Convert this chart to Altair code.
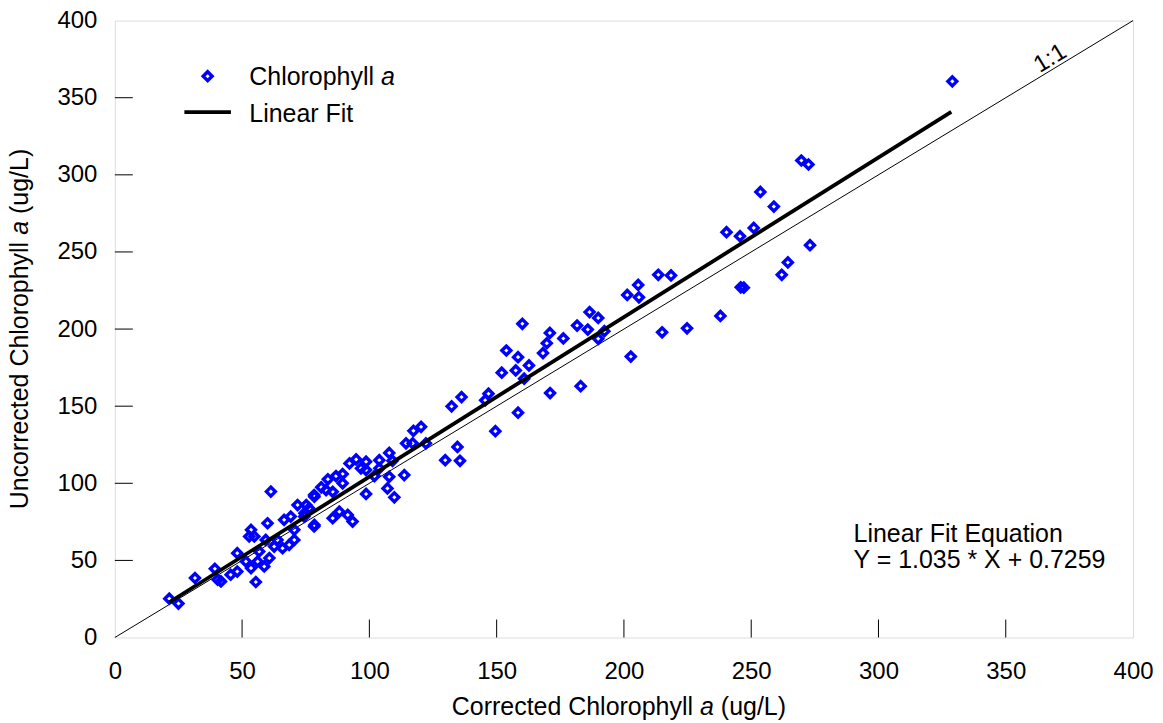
import altair as alt
import pandas as pd

# ---------------- data ----------------
corrected = [329.0, 269.7, 272.5, 253.6, 258.9, 240.3, 245.6, 251.0, 273.1, 264.4,
             262.0, 245.9, 247.1, 237.9, 224.8, 215.0, 213.5, 218.5, 205.6, 201.3,
             205.9, 202.7, 160.1, 170.9, 169.7, 176.2, 168.2, 153.8, 158.4, 157.5,
             160.8, 162.7, 152.0, 181.6, 186.5, 189.9, 185.8, 189.9, 192.3, 171.0,
             183.0, 158.4, 149.5, 146.8, 145.5, 136.2, 132.3, 134.6, 135.6, 129.8,
             120.3, 117.3, 114.4, 117.0, 122.2, 113.7, 92.2, 94.8, 98.7, 96.7,
             98.7, 103.9, 107.8, 109.1, 103.9, 102.0, 107.8, 107.1, 98.7, 109.8,
             86.9, 83.7, 81.1, 78.4, 83.0, 85.6, 89.5, 89.5, 75.2, 74.5,
             88.2, 91.5, 85.6, 93.4, 78.4, 61.3, 21.4, 25.0, 31.5, 39.3,
             40.4, 41.7, 45.5, 48.1, 48.1, 55.4, 53.5, 60.7, 56.1, 51.5,
             53.5, 54.8, 52.8, 60.0, 63.9, 62.6, 66.5, 71.8, 65.9, 68.5,
             70.5, 70.5, 76.3, 78.3, 78.3, 74.4, 69.1, 58.7, 59.3, 56.7]
uncorrected = [360.6, 309.3, 306.7, 288.9, 279.4, 262.8, 260.2, 265.6, 254.4, 243.2,
               235.2, 227.1, 226.8, 208.5, 200.5, 197.9, 235.2, 234.8, 228.6, 222.1,
               220.6, 182.2, 203.4, 197.5, 190.8, 193.9, 184.4, 186.1, 181.8, 173.2,
               167.8, 176.4, 171.7, 202.3, 211.0, 207.2, 199.7, 193.7, 198.6, 158.5,
               163.0, 145.8, 133.8, 158.1, 153.8, 155.9, 149.9, 123.6, 114.6, 115.0,
               136.6, 134.0, 125.9, 125.9, 125.9, 105.3, 112.9, 115.5, 114.0, 109.7,
               108.6, 115.0, 119.7, 114.6, 109.7, 104.7, 104.2, 96.7, 93.1, 90.9,
               104.7, 102.6, 97.4, 91.3, 95.6, 94.5, 100.0, 106.0, 85.9, 80.6,
               81.6, 79.5, 77.4, 75.2, 73.0, 94.6, 25.2, 22.0, 38.6, 44.6,
               37.5, 36.4, 40.7, 42.8, 54.7, 36.0, 45.0, 51.5, 49.3, 49.3,
               69.8, 65.5, 65.5, 74.1, 63.3, 59.0, 76.3, 85.9, 57.9, 60.1,
               63.3, 69.8, 83.8, 92.4, 72.0, 78.4, 78.4, 46.1, 63.3, 55.8]

tick_values = [0, 50, 100, 150, 200, 250, 300, 350, 400]
inner_ticks = [50, 100, 150, 200, 250, 300, 350]
fit_slope = 1.035
fit_intercept = 0.7259
fit_x = [21.4, 328.6]
identity_x = [0, 400]
ratio_label = ["1:1"]
legend_labels = ["Chlorophyll", "a", "Linear Fit"]
equation_lines = ["Linear Fit Equation", "Y = 1.035 * X + 0.7259"]
x_title = ["Corrected Chlorophyll", "a", "(ug/L)"]
y_title = ["Uncorrected Chlorophyll", "a", "(ug/L)"]

# ---------------- layout ----------------
W, H = 1020, 618
FONT = "Liberation Sans"
TS = 25          # text size
TICK_LEN = 18
BLUE = "#0000ff"

scale = alt.Scale(domain=[0, 400], nice=False, zero=False)
x_axis = alt.Axis(values=tick_values, title=None, grid=False, ticks=False, tickSize=0,
                  domain=False, labelFont=FONT, labelFontSize=24, labelColor="black",
                  labelPadding=22, labelFlush=False, labelOverlap=False)
y_axis = alt.Axis(values=tick_values, title=None, grid=False, ticks=False, tickSize=0,
                  domain=False, labelFont=FONT, labelFontSize=24, labelColor="black",
                  labelPadding=18, labelFlush=False, labelOverlap=False)


def X(f="x"):
    return alt.X(f"{f}:Q", scale=scale, axis=x_axis)


def Y(f="y"):
    return alt.Y(f"{f}:Q", scale=scale, axis=y_axis)


one = pd.DataFrame({"d": [0]})

pts = pd.DataFrame({"x": corrected, "y": uncorrected})
points = alt.Chart(pts).mark_point(shape="diamond", filled=False, color=BLUE,
                                   strokeWidth=3.4, size=80, opacity=1).encode(x=X(), y=Y())

ident = pd.DataFrame({"x": identity_x, "y": identity_x})
ident_line = alt.Chart(ident).mark_line(color="black", strokeWidth=1).encode(x=X(), y=Y())

fit = pd.DataFrame({"x": fit_x, "y": [fit_slope * v + fit_intercept for v in fit_x]})
fit_line = alt.Chart(fit).mark_line(color="black", strokeWidth=3.8).encode(x=X(), y=Y())

xt = pd.DataFrame({"x": inner_ticks})
x_ticks = alt.Chart(xt).mark_rule(color="black", strokeWidth=1).encode(
    x=X(), y=alt.value(H), y2=alt.value(H - TICK_LEN))
yt = pd.DataFrame({"y": inner_ticks})
y_ticks = alt.Chart(yt).mark_rule(color="black", strokeWidth=1).encode(
    y=Y(), x=alt.value(0), x2=alt.value(TICK_LEN))

lab = pd.DataFrame({"x": [367.5], "y": [375.4], "t": ratio_label})
ratio_text = alt.Chart(lab).mark_text(font=FONT, fontSize=24, angle=328.75, align="center",
                                      baseline="middle", color="black").encode(
    x=X(), y=Y(), text="t:N")


def txt(s, x, y, italic=False, angle=0, size=TS):
    kw = dict(font=FONT, fontSize=size, align="left", baseline="alphabetic", color="black")
    if italic:
        kw["fontStyle"] = "italic"
    if angle:
        kw["angle"] = angle
    return alt.Chart(one).mark_text(**kw).encode(x=alt.value(x), y=alt.value(y), text=alt.value(s))


# equation
eq1 = txt(equation_lines[0], 740, 522.3)
eq2 = txt(equation_lines[1], 740, 548.3)

# legend
leg_sym = alt.Chart(one).mark_point(shape="diamond", filled=False, color=BLUE, strokeWidth=3.4,
                                    size=80, opacity=1).encode(x=alt.value(93), y=alt.value(55.7))
leg_line = alt.Chart(one).mark_rule(color="black", strokeWidth=3.8).encode(
    x=alt.value(69.7), x2=alt.value(116.3), y=alt.value(91.7))
leg_t1 = txt(legend_labels[0], 134.7, 65)
leg_t2 = txt(legend_labels[1], 134.7 + 5.279 * TS, 65, italic=True)
leg_t3 = txt(legend_labels[2], 134.7, 101.7)

# x title
xs0 = 505 - (9.947 + 0.556 + 0.278 + 2.612) * TS / 2
xt1 = txt(x_title[0], xs0, 696)
xt2 = txt(x_title[1], xs0 + 9.947 * TS, 696, italic=True)
xt3 = txt(x_title[2], xs0 + (9.947 + 0.556 + 0.278) * TS, 696)

# y title (rotated)
ys0 = H / 2 + (11.003 + 0.556 + 0.278 + 2.612) * TS / 2
yt1 = txt(y_title[0], -86.5, ys0, angle=270)
yt2 = txt(y_title[1], -86.5, ys0 - 11.003 * TS, italic=True, angle=270)
yt3 = txt(y_title[2], -86.5, ys0 - (11.003 + 0.556 + 0.278) * TS, angle=270)

chart = alt.layer(
    x_ticks, y_ticks, ident_line, points, fit_line, ratio_text,
    eq1, eq2, leg_sym, leg_line, leg_t1, leg_t2, leg_t3,
    xt1, xt2, xt3, yt1, yt2, yt3,
).properties(
    width=W, height=H,
    autosize=alt.AutoSizeParams(type="none"),
    padding={"left": 107, "top": 12, "right": 22, "bottom": 86},
).configure_view(stroke="black", strokeWidth=1.3).configure(background="white")

chart.save("out.html", embed_options={"renderer": "svg", "actions": False})
